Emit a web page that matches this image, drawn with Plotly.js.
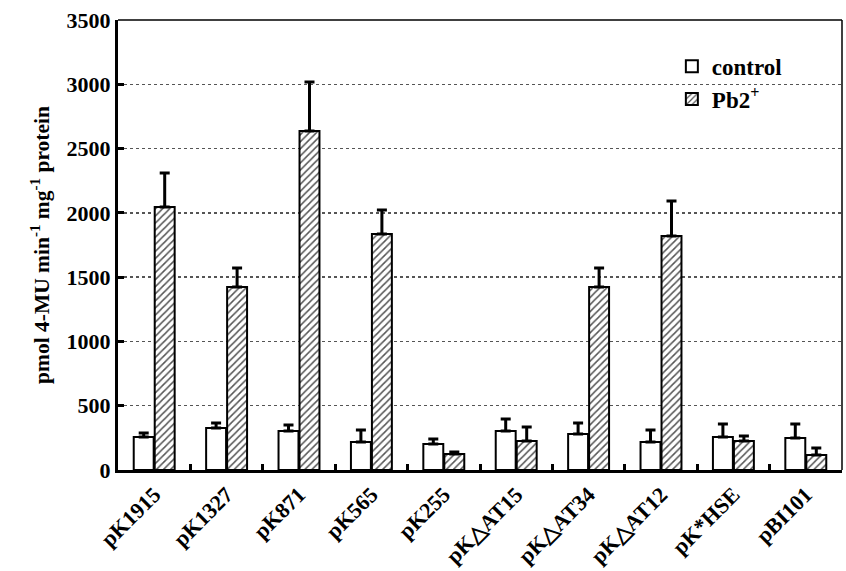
<!DOCTYPE html>
<html><head><meta charset="utf-8">
<script src="https://cdn.plot.ly/plotly-3.0.1.min.js"></script>
<style>body{margin:0;background:#fff}#c{width:846px;height:571px}</style>
</head><body><div id="c"></div>
<script>
const categories = ["pK1915","pK1327","pK871","pK565","pK255","pK\u25B3AT15","pK\u25B3AT34","pK\u25B3AT12","pK*HSE","pBI101"];
const controlVals = [257, 327, 303, 218, 202, 303, 280, 218, 257, 249];
const controlErr  = [31, 38, 47, 93, 39, 94, 85, 93, 101, 109];
const pbVals = [2045, 1423, 2636, 1835, 124, 225, 1423, 1820, 225, 117];
const pbErr  = [265, 148, 381, 187, 16, 109, 148, 272, 39, 54];
const yTicks = [0, 500, 1000, 1500, 2000, 2500, 3000, 3500];

const zeros = controlVals.map(() => 0);
const fam = "Liberation Serif, Times New Roman, serif";
const fnt = {family: fam, size: 22, color: "#000", weight: "bold"};

const traces = [
  {type: "bar", name: "control", x: categories, y: controlVals,
   marker: {color: "#fff", line: {color: "#000", width: 2}},
   error_y: {type: "data", array: controlErr, arrayminus: zeros, symmetric: false, color: "#000", thickness: 3, width: 5}},
  {type: "bar", name: "Pb2<sup>+</sup>", x: categories, y: pbVals,
   marker: {color: "#fff", line: {color: "#000", width: 2},
            pattern: {shape: "/", fgcolor: "#555", bgcolor: "#fff", size: 5, solidity: 0.3}},
   error_y: {type: "data", array: pbErr, arrayminus: zeros, symmetric: false, color: "#000", thickness: 3, width: 5}}
];

const layout = {
  width: 846, height: 571,
  margin: {l: 118, r: 4, t: 20, b: 101},
  paper_bgcolor: "#fff", plot_bgcolor: "#fff",
  font: fnt,
  barmode: "group", bargap: 0.42, bargroupgap: 0.05,
  showlegend: true,
  legend: {x: 0.765, y: 0.945, xanchor: "left", yanchor: "top", bgcolor: "rgba(0,0,0,0)",
           font: {family: fam, size: 23, color: "#000", weight: "bold"}, tracegroupgap: 0, itemwidth: 30},
  xaxis: {type: "category", showline: true, linecolor: "#000", linewidth: 3,
          ticks: "inside", tickson: "boundaries", ticklen: 6, tickwidth: 3, tickcolor: "#000",
          tickangle: -45, tickfont: fnt, showgrid: false, zeroline: false},
  yaxis: {range: [0, 3500], tickvals: yTicks, ticktext: yTicks.map(String),
          showline: true, linecolor: "#000", linewidth: 3,
          ticks: "inside", ticklen: 6, tickwidth: 3, tickcolor: "#000",
          tickfont: fnt, showgrid: true, gridcolor: "#555", griddash: "dot", gridwidth: 1.5,
          zeroline: false,
          title: {text: "pmol 4-MU min<sup>-1</sup> mg<sup>-1</sup> protein", font: {family: fam, size: 21.5, color: "#000", weight: "bold"}, standoff: 12}},
  shapes: [
    {type: "line", xref: "paper", yref: "paper", x0: 0, x1: 1, y0: 1, y1: 1, line: {color: "#000", width: 1.5}},
    {type: "line", xref: "paper", yref: "paper", x0: 1, x1: 1, y0: 0, y1: 1, line: {color: "#000", width: 1.5}}
  ]
};

Plotly.newPlot("c", traces, layout, {displayModeBar: false, staticPlot: true});
</script></body></html>
